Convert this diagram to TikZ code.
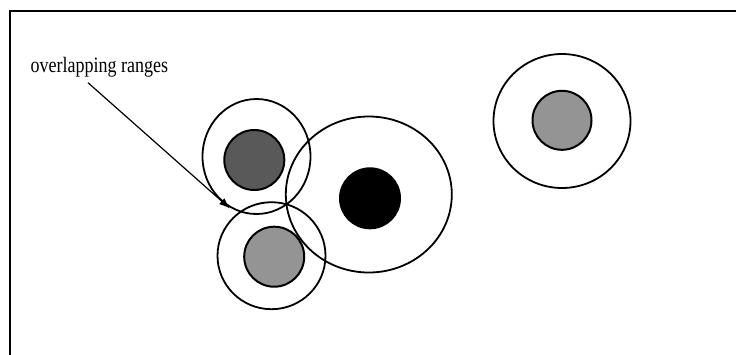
\documentclass[tikz,border=0pt]{standalone}
\usepackage{fontspec}
\setmainfont{Liberation Serif}
\usepackage{tikz}
\usetikzlibrary{arrows.meta,shapes.geometric}

\begin{document}
\begin{tikzpicture}[x=1pt, y=-1pt, >={Latex[length=11pt, width=8pt]},
  cover/.style={draw, line width=1.8pt, ellipse, inner sep=0pt},
  station/.style={draw, line width=2pt, circle, inner sep=0pt, minimum size=60pt}]
  \useasboundingbox (0,0) rectangle (736,354);
  % frame
  \draw[line width=1.4pt] (740,11) -- (10,11) -- (10,360);
  % transmission ranges
  \foreach \n/\x/\y/\w/\h in {rTL/256.5/156.5/108/115, rBL/271.5/255.7/108/107,
                              rC/368.8/194.5/166/156, rR/562/121/137/134} {
     \node[cover, minimum width=\w pt, minimum height=\h pt] (\n) at (\x,\y) {};}
  % stations
  \node[station, fill=black!65] (sTL) at (254.3,160) {};
  \node[station, fill=black!42] (sBL) at (274.2,256.7) {};
  \node[station, fill=black] (sC) at (370,198.3) {};
  \node[station, fill=black!42, minimum size=59pt] (sR) at (562,120.3) {};
  % label and arrow
  \node[anchor=base west, inner sep=0pt, yscale=1.22, transform shape,
    font=\fontsize{18}{22}\selectfont] (lbl) at (30.5,72.5) {overlapping ranges};
  \coordinate (tail) at (88,82.7);
  \coordinate (tip) at (230,208.5);
  \draw[->, line width=1.2pt] (tail) -- (tip);
\end{tikzpicture}
\end{document}
